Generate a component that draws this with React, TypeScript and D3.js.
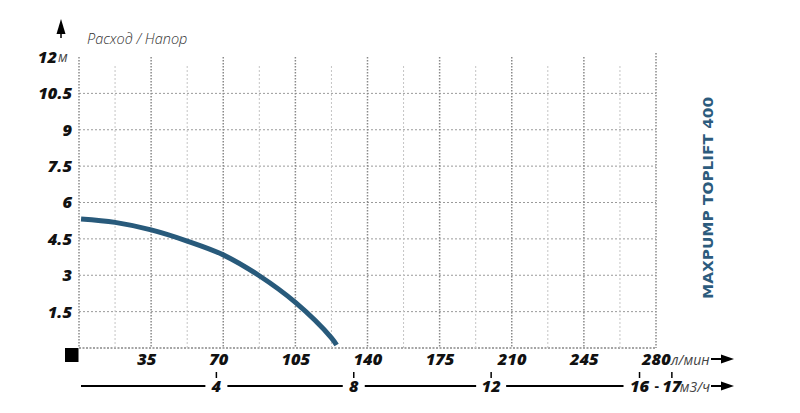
import React from "react";
import * as d3 from "d3";

const flowTicks = [35, 70, 105, 140, 175, 210, 245, 280];
const minorFlowTicks = [17.5, 52.5, 87.5, 122.5, 157.5, 192.5, 227.5, 262.5];
const headTicks = [1.5, 3, 4.5, 6, 7.5, 9, 10.5, 12];
const headLabels = ["1.5", "3", "4.5", "6", "7.5", "9", "10.5", "12"];
const m3hTicks = [4, 8, 12];
const curveFlow = [1, 17.5, 35, 52.5, 70, 87.5, 105, 122.5, 125];
const curveHead = [5.32, 5.18, 4.87, 4.41, 3.84, 2.98, 1.88, 0.42, 0.12];

const W = 800;
const H = 413;
const numFont = "'Open Sans', 'DejaVu Sans', sans-serif";

export default function App() {
  const x = d3.scaleLinear().domain([0, 280]).range([79, 656]);
  const y = d3.scaleLinear().domain([0, 12]).range([348, 57]);
  // m3/h scale: 1 m3/h = 1000/60 l/min
  const xm = (v: number) => x((v * 1000) / 60);

  const pts: [number, number][] = curveFlow.map((f, i) => [f, curveHead[i]]);
  const line = d3
    .line<[number, number]>()
    .x((d) => x(d[0]))
    .y((d) => y(d[1]))
    .curve(d3.curveCatmullRom.alpha(0.5));

  const x0 = x(0);
  const xEnd = x(280);
  const y0 = y(0);
  const yTop = y(12);

  // second axis layout
  const axY = 386;
  const m16 = xm(16) + 11;
  const m17 = xm(17) + 9;
  const gaps: [number, number][] = [
    ...m3hTicks.map((t) => [xm(t) - (t >= 10 ? 15 : 11), xm(t) + (t >= 10 ? 15 : 11)] as [number, number]),
  ];
  const segs: [number, number][] = [];
  let start = x0 + 2;
  gaps.forEach(([a, b]) => {
    segs.push([start, a]);
    start = b;
  });
  segs.push([start, m16 - 16]);

  const Arrow = ({ x1, yy }: { x1: number; yy: number }) => (
    <g>
      <line x1={x1} x2={x1 + 14} y1={yy} y2={yy} stroke="#000" strokeWidth={2} />
      <path d={`M${x1 + 10},${yy - 4.5} L${x1 + 23},${yy} L${x1 + 10},${yy + 4.5} Z`} fill="#000" />
    </g>
  );

  return (
    <svg width={W} height={H} style={{ position: "absolute", left: 0, top: 0, background: "#fff" }}>
      {/* horizontal grid */}
      {headTicks
        .filter((t) => t < 12)
        .map((t) => (
          <line key={"h" + t} x1={x0} x2={xEnd} y1={y(t)} y2={y(t)} stroke="#9a9a9a" strokeWidth={1} strokeDasharray="2 2" />
        ))}
      <line x1={x0} x2={xEnd} y1={y0} y2={y0} stroke="#888" strokeWidth={1.3} strokeDasharray="2 1.5" />
      {/* minor verticals */}
      {minorFlowTicks.map((t) => (
        <line key={"m" + t} x1={x(t)} x2={x(t)} y1={66} y2={y0} stroke="#c4c4c4" strokeWidth={1} strokeDasharray="2 2" />
      ))}
      {/* major verticals */}
      {flowTicks.map((t) => (
        <line
          key={"v" + t}
          x1={x(t)}
          x2={x(t)}
          y1={t === 280 ? 53 : yTop}
          y2={y0}
          stroke="#8a8a8a"
          strokeWidth={1.5}
          strokeDasharray="1.5 1.5"
        />
      ))}
      <line x1={x0} x2={x0} y1={yTop} y2={y0} stroke="#8a8a8a" strokeWidth={1.5} strokeDasharray="1.5 1.5" />

      {/* curve */}
      <path d={line(pts) || ""} fill="none" stroke="#285a7b" strokeWidth={5} strokeLinecap="butt" />

      {/* y labels */}
      {headTicks.map((t, i) => (
        <text
          key={"yl" + t}
          x={t === 12 ? 57 : 72}
          y={y(t)}
          dy="0.36em"
          textAnchor="end"
          fontFamily={numFont}
          fontWeight={800}
          fontStyle="italic"
          fontSize={16.5}
          fill="#111"
        >
          {headLabels[i]}
        </text>
      ))}
      <text x={58} y={y(12)} dy="0.36em" fontFamily={numFont} fontStyle="italic" fontSize={14} fill="#444">
        м
      </text>

      {/* up arrow */}
      <path d="M61,19 L65.5,34 L56.5,34 Z" fill="#000" />
      <line x1={61} x2={61} y1={30} y2={38} stroke="#000" strokeWidth={1.5} />
      <text x={87} y={44} fontFamily={numFont} fontStyle="italic" fontWeight={300} fontSize={14.5} fill="#333">
        Расход / Напор
      </text>

      {/* black square */}
      <rect x={65} y={348} width={13.5} height={14} fill="#000" />

      {/* x labels */}
      {flowTicks.map((t) => (
        <text
          key={"xl" + t}
          x={x(t) - 14}
          y={365}
          fontFamily={numFont}
          fontWeight={800}
          fontStyle="italic"
          fontSize={16.5}
          fill="#111"
        >
          {t}
        </text>
      ))}
      <text x={x(280) + 15} y={365} fontFamily={numFont} fontStyle="italic" fontSize={14} fill="#444">
        л/мин
      </text>
      <Arrow x1={711} yy={359} />

      {/* second axis */}
      {segs.map(([a, b], i) => (
        <line key={"s" + i} x1={a} x2={b} y1={axY} y2={axY} stroke="#000" strokeWidth={2} />
      ))}
      {m3hTicks.map((t) => (
        <g key={"m3" + t}>
          <line x1={xm(t)} x2={xm(t)} y1={372} y2={378} stroke="#000" strokeWidth={1.5} />
          <text
            x={xm(t)}
            y={392}
            textAnchor="middle"
            fontFamily={numFont}
            fontWeight={800}
            fontStyle="italic"
            fontSize={16.5}
            fill="#111"
          >
            {t}
          </text>
        </g>
      ))}
      <line x1={m16} x2={m16} y1={372} y2={378} stroke="#000" strokeWidth={1.5} />
      <line x1={m17} x2={m17} y1={372} y2={378} stroke="#000" strokeWidth={1.5} />
      <text x={m16} y={392} textAnchor="middle" fontFamily={numFont} fontWeight={800} fontStyle="italic" fontSize={16.5} fill="#111">
        16
      </text>
      <text x={(m16 + m17) / 2 + 1} y={391} textAnchor="middle" fontFamily={numFont} fontWeight={700} fontSize={14} fill="#111">
        -
      </text>
      <text x={m17} y={392} textAnchor="middle" fontFamily={numFont} fontWeight={800} fontStyle="italic" fontSize={16.5} fill="#111">
        17
      </text>
      <text x={m17 + 8} y={392} fontFamily={numFont} fontStyle="italic" fontSize={14} fill="#444">
        м3/ч
      </text>
      <Arrow x1={711} yy={386} />

      {/* vertical title */}
      <text
        transform="translate(713,198) rotate(-90)"
        textAnchor="middle"
        fontFamily="'DejaVu Sans', sans-serif"
        fontWeight={700}
        fontSize={14.5}
        fill="#2c5b7d"
        textLength={202}
        lengthAdjust="spacingAndGlyphs"
      >
        MAXPUMP TOPLIFT 400
      </text>
    </svg>
  );
}
